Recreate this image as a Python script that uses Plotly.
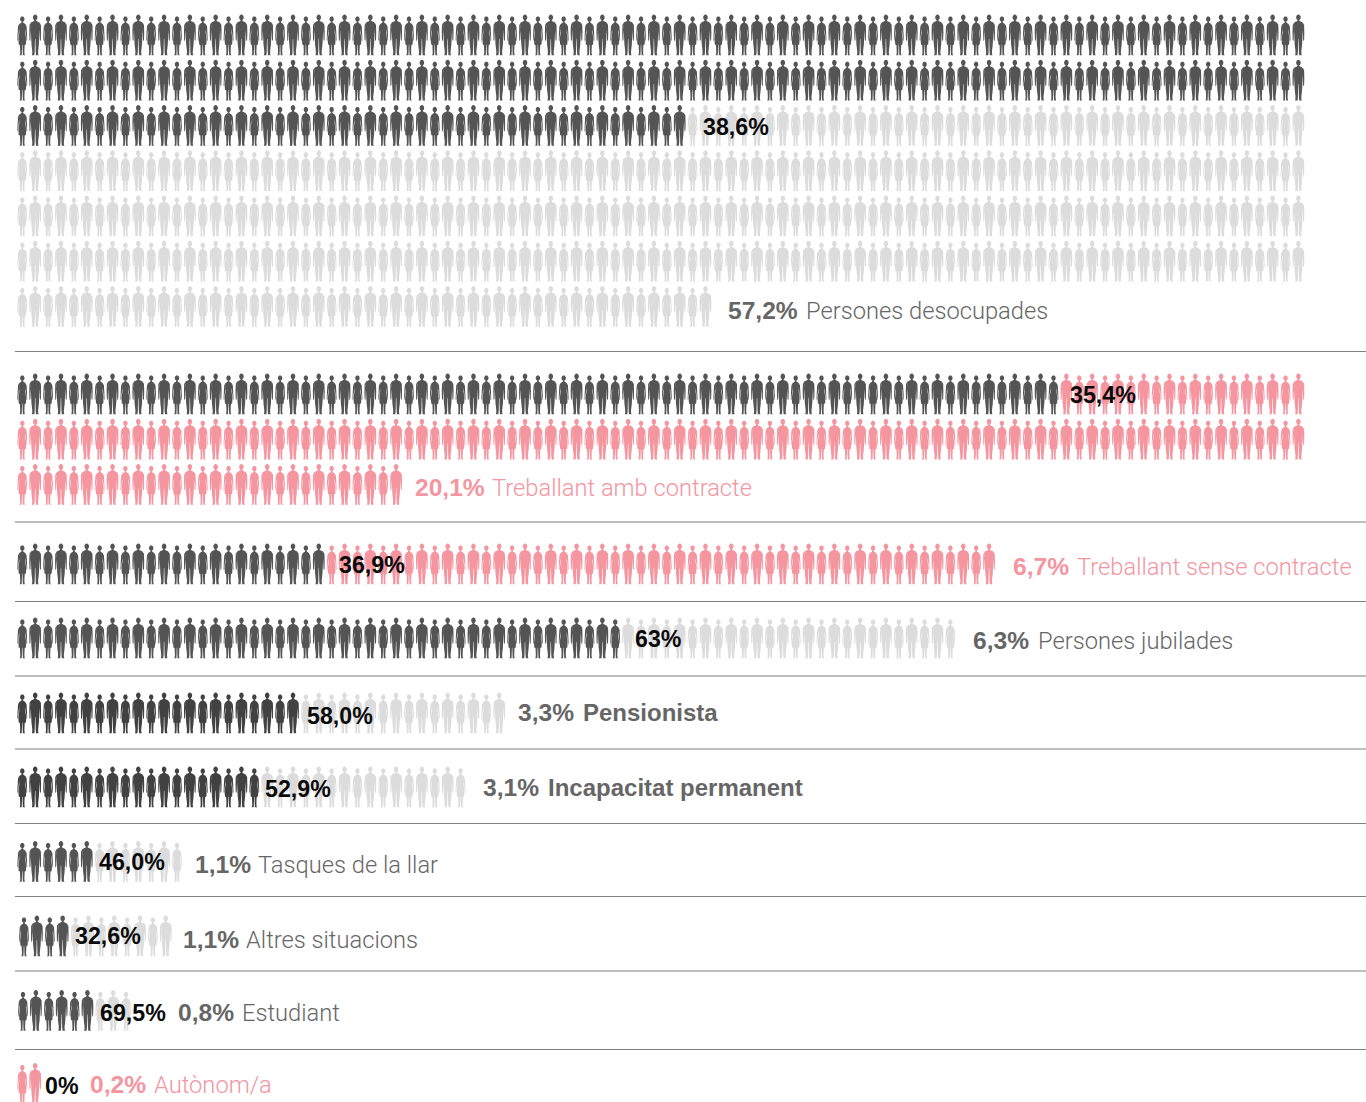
import math
import plotly.graph_objects as go

# ---- data ----
categories = ["Persones desocupades", "Treballant amb contracte", "Treballant sense contracte",
              "Persones jubilades", "Pensionista", "Incapacitat permanent", "Tasques de la llar",
              "Altres situacions", "Estudiant", "Autònom/a"]
share_labels = ["57,2%", "20,1%", "6,7%", "6,3%", "3,3%", "3,1%", "1,1%", "1,1%", "0,8%", "0,2%"]
inner_labels = ["38,6%", "35,4%", "36,9%", "63%", "58,0%", "52,9%", "46,0%", "32,6%", "69,5%", "0%"]
total_icons = [654, 230, 76, 73, 38, 35, 13, 12, 9, 2]
dark_icons = [252, 81, 24, 47, 22, 19, 6, 4, 6, 0]
is_pink = [False, True, True, False, False, False, False, False, False, True]
bold_name = [False, False, False, False, True, True, False, False, False, False]

# ---- layout ----
W, H = 1366, 1102
PITCH = 12.89
PER_ROW = 100
ROW_H = 45.25
block_x = [22.3] * 7 + [24.0, 23.0, 22.3]
block_top = [14.5, 373.5, 543.5, 617.5, 692.5, 766.5, 841, 915.5, 990, 1063]
rules = [351.5, 522, 601.5, 676, 749, 823.5, 896.5, 971, 1049.5]
inner_x = [703, 1070, 339, 635, 307, 265, 99, 75, 100, 45]
inner_y = [129, 397, 567, 641, 718, 791, 864, 938, 1015, 1088]
share_x = [728, 415, 1013, 973, 518, 483, 195, 183, 178, 90]
share_y = [313, 490, 569, 643, 715, 790, 867, 942, 1015, 1087]
name_x = [806, 492, 1077, 1038, 583, 548, 258, 246, 242, 154]

DARK = "#545454"
DARKER = "#414141"
LIGHT = "#dcdcdc"
PINK = "#f4959f"
GREY_TXT = "#666666"


def mirror(half):
    return [(x, y) for x, y in half] + [(-x, y) for x, y in reversed(half)]


def ellipse(cy, rx, ry):
    return [(rx * math.cos(t * math.pi / 8), cy + ry * math.sin(t * math.pi / 8)) for t in range(16)]


male = [
    ellipse(2.9, 2.3, 2.8),
    mirror([(0.9, 5.4), (1.1, 6.6), (4.3, 8.0), (4.5, 11), (4.3, 17), (4.1, 22), (3.7, 30), (2.9, 37),
            (3.0, 39.6), (3.4, 40.8), (0.8, 40.8), (0.5, 37), (0.2, 25), (0.02, 24)]),
    [(4.5, 8.2), (5.7, 10.5), (5.9, 18), (5.7, 25.5), (5.2, 26.8), (4.7, 25), (4.6, 20), (4.4, 16), (4.3, 12)],
    [(-4.5, 8.2), (-5.7, 10.5), (-5.9, 18), (-5.7, 25.5), (-5.2, 26.8), (-4.7, 25), (-4.6, 20), (-4.4, 16), (-4.3, 12)],
]
female = [
    ellipse(4.6, 2.2, 2.7),
    mirror([(0.8, 7.0), (1.0, 8.2), (3.1, 9.6), (3.3, 13), (3.0, 18), (3.4, 21), (3.9, 25), (3.6, 30),
            (2.4, 30.5), (2.1, 37), (2.2, 39.6), (2.7, 40.8), (0.6, 40.8), (0.4, 37), (0.2, 30.5), (0.02, 30)]),
    [(3.2, 9.7), (4.3, 12), (4.7, 19), (4.9, 25.5), (4.5, 27), (4.2, 24), (3.6, 19), (3.2, 14)],
    [(-3.2, 9.7), (-4.3, 12), (-4.7, 19), (-4.9, 25.5), (-4.5, 27), (-4.2, 24), (-3.6, 19), (-3.2, 14)],
]

paths = {DARK: ([], []), DARKER: ([], []), LIGHT: ([], []), PINK: ([], [])}


def add_icon(colour, cx, top, template):
    xs, ys = paths[colour]
    for part in template:
        for px, py in part:
            xs.append(cx + px)
            ys.append(top + py)
        xs.append(part[0][0] + cx)
        ys.append(part[0][1] + top)
        xs.append(None)
        ys.append(None)


for b, total in enumerate(total_icons):
    rest = PINK if is_pink[b] else LIGHT
    dark = DARKER if b in (4, 5) else DARK
    for i in range(total):
        row, col = divmod(i, PER_ROW)
        add_icon(dark if i < dark_icons[b] else rest,
                 block_x[b] + col * PITCH,
                 block_top[b] + row * ROW_H,
                 female if i % 2 == 0 else male)

fig = go.Figure()
for colour, (xs, ys) in paths.items():
    fig.add_trace(go.Scatter(x=xs, y=ys, mode="none", fill="toself", fillcolor=colour, hoverinfo="skip"))

BOLD = "Liberation Sans"
LIGHTF = "Roboto"

colours = [PINK if p else GREY_TXT for p in is_pink]
fig.add_trace(go.Scatter(x=inner_x, y=inner_y, mode="text", text=inner_labels, textposition="middle right",
                         textfont=dict(family=BOLD, size=23.2, color="#0a0a0a", weight=700), hoverinfo="skip"))
fig.add_trace(go.Scatter(x=share_x, y=share_y, mode="text", text=share_labels, textposition="middle right",
                         textfont=dict(family=BOLD, size=24.6, color=colours, weight=700), hoverinfo="skip"))
for bold in (False, True):
    idx = [i for i in range(len(categories)) if bold_name[i] == bold]
    fig.add_trace(go.Scatter(x=[name_x[i] for i in idx], y=[share_y[i] for i in idx], mode="text",
                             text=[categories[i] for i in idx], textposition="middle right",
                             textfont=dict(family=BOLD if bold else LIGHTF, size=24 if bold else 23.7,
                                           color=[colours[i] for i in idx], weight=700 if bold else 300),
                             hoverinfo="skip"))

fig.update_layout(
    width=W, height=H, margin=dict(l=0, r=0, t=0, b=0), showlegend=False,
    plot_bgcolor="white", paper_bgcolor="white",
    xaxis=dict(range=[0, W], visible=False, fixedrange=True),
    yaxis=dict(range=[H, 0], visible=False, fixedrange=True),
    shapes=[dict(type="line", x0=15, x1=W, y0=y, y1=y, line=dict(color="#7f7f7f", width=1)) for y in rules],
)
fig.write_html("out.html", config={"displayModeBar": False},
               post_script="document.body.style.margin='0';document.body.style.overflow='hidden';")
